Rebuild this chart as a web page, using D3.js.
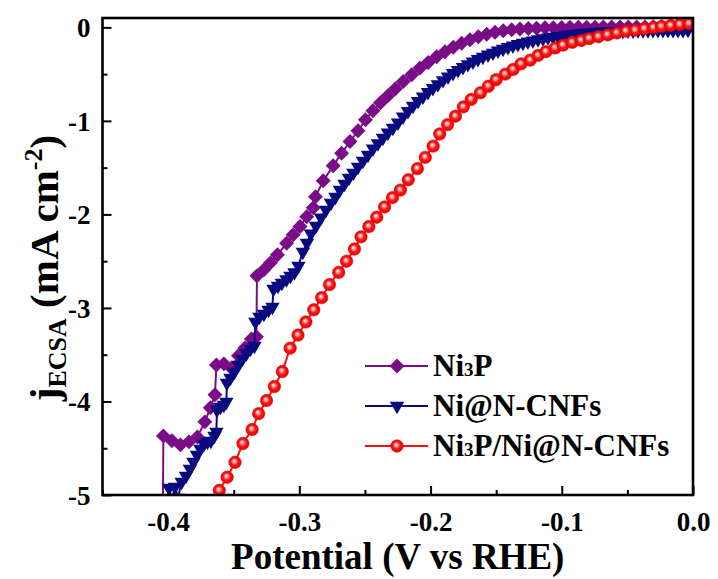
<!DOCTYPE html>
<html>
<head>
<meta charset="utf-8">
<script src="https://cdn.jsdelivr.net/npm/d3@7"></script>
<style>
  html, body { margin: 0; padding: 0; background: #fff; }
  svg { display: block; }
  svg text { font-family: "Liberation Serif", "Times New Roman", Tinos, "DejaVu Serif", serif; font-weight: bold; }
</style>
</head>
<body>
<svg id="chart" width="718" height="579"></svg>
<script>
// ---- Axis ticks ----
const xMajor = [-0.4, -0.3, -0.2, -0.1, 0.0];
const xTickLabels = ["-0.4", "-0.3", "-0.2", "-0.1", "0.0"];
const xMinor = [-0.45, -0.35, -0.25, -0.15, -0.05];
const yMajor = [0, -1, -2, -3, -4, -5];
const yTickLabels = ["0", "-1", "-2", "-3", "-4", "-5"];
const yMinor = [-0.5, -1.5, -2.5, -3.5, -4.5];

// ---- Series: potential (V vs RHE) and current density (mA cm^-2) ----
const ni3pV = [-0.4043,-0.4036,-0.3971,-0.3906,-0.3841,-0.3777,-0.3720,-0.3678,-0.3643,-0.3632,
  -0.3575,-0.3518,-0.3464,-0.3415,-0.3365,-0.3327,-0.3323,-0.3270,-0.3220,-0.3167,
  -0.3097,-0.3047,-0.2995,-0.2944,-0.2894,-0.2877,-0.2818,-0.2742,-0.2678,-0.2614,
  -0.2553,-0.2496,-0.2439,-0.2382,-0.2325,-0.2268,-0.2208,-0.2144,-0.2081,-0.2018,
  -0.1954,-0.1890,-0.1827,-0.1763,-0.1700,-0.1636,-0.1572,-0.1509,-0.1446,-0.1382,
  -0.1319,-0.1255,-0.1192,-0.1128,-0.1065,-0.1001,-0.0938,-0.0874,-0.0810,-0.0747,
  -0.0684,-0.0620,-0.0556,-0.0493,-0.0429,-0.0366,-0.0303,-0.0239,-0.0175,-0.0112,-0.0048];
const ni3pJ = [-5.69,-4.368,-4.421,-4.464,-4.432,-4.379,-4.218,-4.068,-3.929,-3.609,
  -3.598,-3.641,-3.512,-3.427,-3.331,-3.309,-2.657,-2.593,-2.518,-2.432,
  -2.309,-2.218,-2.129,-2.026,-1.929,-1.812,-1.641,-1.480,-1.345,-1.220,
  -1.106,-0.988,-0.892,-0.806,-0.732,-0.657,-0.578,-0.507,-0.435,-0.375,
  -0.315,-0.261,-0.213,-0.170,-0.133,-0.101,-0.074,-0.052,-0.036,-0.026,
  -0.018,-0.013,-0.009,-0.005,-0.003,-0.001,0.000,0.001,0.002,0.002,
  0.003,0.003,0.004,0.004,0.005,0.005,0.006,0.006,0.006,0.007,0.007];

const niCnfV = [-0.4017,-0.3994,-0.3971,-0.3948,-0.3925,-0.3897,-0.3864,-0.3834,-0.3807,-0.3780,
  -0.3754,-0.3727,-0.3700,-0.3674,-0.3647,-0.3632,-0.3628,-0.3601,-0.3575,-0.3556,
  -0.3552,-0.3525,-0.3495,-0.3464,-0.3434,-0.3403,-0.3373,-0.3342,-0.3335,-0.3304,
  -0.3270,-0.3235,-0.3205,-0.3197,-0.3163,-0.3133,-0.3098,-0.3068,-0.3037,-0.3007,
  -0.2973,-0.2942,-0.2912,-0.2873,-0.2835,-0.2797,-0.2759,-0.2725,-0.2691,-0.2656,
  -0.2622,-0.2588,-0.2553,-0.2515,-0.2477,-0.2439,-0.2401,-0.2363,-0.2325,-0.2287,
  -0.2248,-0.2210,-0.2172,-0.2134,-0.2096,-0.2058,-0.2020,-0.1982,-0.1944,-0.1905,
  -0.1867,-0.1829,-0.1791,-0.1753,-0.1715,-0.1677,-0.1639,-0.1601,-0.1562,-0.1524,
  -0.1486,-0.1448,-0.1410,-0.1372,-0.1334,-0.1296,-0.1258,-0.1220,-0.1181,-0.1143,
  -0.1105,-0.1067,-0.1029,-0.0991,-0.0953,-0.0915,-0.0877,-0.0838,-0.0800,-0.0762,
  -0.0724,-0.0686,-0.0648,-0.0610,-0.0572,-0.0534,-0.0495,-0.0457,-0.0419,-0.0381,
  -0.0343,-0.0305,-0.0267,-0.0229,-0.0191,-0.0152,-0.0114,-0.0076,-0.0038];
const niCnfJ = [-5.106,-4.924,-5.052,-4.913,-5.031,-4.860,-4.796,-4.721,-4.646,-4.571,
  -4.507,-4.454,-4.432,-4.421,-4.368,-4.325,-4.090,-4.058,-4.036,-4.004,
  -3.801,-3.748,-3.683,-3.609,-3.544,-3.486,-3.437,-3.405,-3.149,-3.095,
  -3.063,-3.020,-2.988,-2.796,-2.764,-2.732,-2.694,-2.657,-2.619,-2.550,
  -2.400,-2.304,-2.207,-2.122,-2.036,-1.951,-1.876,-1.812,-1.737,-1.673,
  -1.609,-1.555,-1.491,-1.427,-1.363,-1.298,-1.240,-1.181,-1.127,-1.074,
  -1.020,-0.956,-0.897,-0.839,-0.790,-0.742,-0.694,-0.651,-0.609,-0.566,
  -0.528,-0.491,-0.457,-0.425,-0.395,-0.368,-0.341,-0.317,-0.293,-0.272,
  -0.250,-0.231,-0.213,-0.197,-0.181,-0.167,-0.154,-0.141,-0.129,-0.119,
  -0.109,-0.101,-0.093,-0.086,-0.079,-0.073,-0.067,-0.062,-0.058,-0.053,
  -0.050,-0.047,-0.044,-0.042,-0.040,-0.037,-0.036,-0.035,-0.034,-0.033,
  -0.032,-0.031,-0.031,-0.030,-0.030,-0.029,-0.029,-0.029,-0.028];

const hybridV = [-0.361,-0.355,-0.349,-0.343,-0.336,-0.331,-0.325,-0.319,-0.313,-0.307,
  -0.301,-0.295,-0.289,-0.283,-0.277,-0.270,-0.264,-0.258,-0.253,-0.247,
  -0.241,-0.235,-0.229,-0.223,-0.217,-0.210,-0.204,-0.198,-0.193,-0.187,
  -0.181,-0.175,-0.169,-0.162,-0.156,-0.150,-0.143,-0.137,-0.131,-0.124,
  -0.118,-0.112,-0.105,-0.099,-0.092,-0.085,-0.079,-0.072,-0.065,-0.058,
  -0.051,-0.044,-0.037,-0.030,-0.024,-0.017,-0.010,-0.003];
const hybridJ = [-4.95,-4.81,-4.65,-4.45,-4.30,-4.13,-3.99,-3.84,-3.68,-3.43,
  -3.29,-3.15,-3.02,-2.89,-2.75,-2.62,-2.50,-2.37,-2.24,-2.13,
  -2.03,-1.92,-1.82,-1.74,-1.63,-1.51,-1.39,-1.27,-1.14,-1.04,
  -0.95,-0.85,-0.77,-0.70,-0.63,-0.56,-0.50,-0.45,-0.39,-0.35,
  -0.30,-0.26,-0.22,-0.19,-0.16,-0.14,-0.12,-0.10,-0.08,-0.06,
  -0.04,-0.03,-0.015,-0.002,0.01,0.02,0.03,0.04];

const seriesNames = ["Ni3P", "Ni@N-CNFs", "Ni3P/Ni@N-CNFs"];
const seriesColors = ["#7b0c88", "#0a0a80", "#ff0d0d"];
const SERIF = "'Liberation Serif', 'Times New Roman', Tinos, 'DejaVu Serif', serif";

// ---- Layout ----
const W = 718, H = 579;
const margin = { top: 18, right: 25, bottom: 84, left: 102.5 };
const svg = d3.select("#chart").attr("font-family", SERIF);

const x = d3.scaleLinear().domain([-0.45, 0]).range([margin.left, W - margin.right]);
const y = d3.scaleLinear().domain([-5, 0.1]).range([H - margin.bottom, margin.top]);

const defs = svg.append("defs");
defs.append("clipPath").attr("id", "plot-clip")
  .append("rect")
  .attr("x", margin.left).attr("y", margin.top)
  .attr("width", W - margin.left - margin.right)
  .attr("height", H - margin.top - margin.bottom);

const ball = defs.append("radialGradient").attr("id", "ball")
  .attr("cx", "50%").attr("cy", "50%").attr("r", "50%")
  .attr("fx", "42%").attr("fy", "38%");
ball.append("stop").attr("offset", "0%").attr("stop-color", "#ffffff");
ball.append("stop").attr("offset", "28%").attr("stop-color", "#ff9a9a");
ball.append("stop").attr("offset", "55%").attr("stop-color", "#ff1a1a");
ball.append("stop").attr("offset", "100%").attr("stop-color", "#e00000");

// ---- Axes ----
const xAxisY = y(-5);
function styleAxis(g) {
  g.attr("font-family", SERIF);
  g.select(".domain").remove();
  g.selectAll(".tick line").attr("stroke", "#000").attr("stroke-width", 2);
}

svg.append("g").attr("transform", `translate(0,${xAxisY})`)
  .call(d3.axisBottom(x).tickValues(xMinor).tickSize(-5).tickFormat(""))
  .call(styleAxis);
const gx = svg.append("g").attr("transform", `translate(0,${xAxisY})`)
  .call(d3.axisBottom(x).tickValues(xMajor).tickSize(-9)
    .tickFormat((d, i) => xTickLabels[i]))
  .call(styleAxis);
gx.selectAll(".tick text")
  .attr("y", 36).attr("dy", 0)
  .attr("font-size", 27).attr("font-family", SERIF)
  .attr("font-weight", "bold").attr("fill", "#000");

svg.append("g").attr("transform", `translate(${margin.left},0)`)
  .call(d3.axisLeft(y).tickValues(yMinor).tickSize(-5).tickFormat(""))
  .call(styleAxis);
const gy = svg.append("g").attr("transform", `translate(${margin.left},0)`)
  .call(d3.axisLeft(y).tickValues(yMajor).tickSize(-9)
    .tickFormat((d, i) => yTickLabels[i]))
  .call(styleAxis);
gy.selectAll(".tick text")
  .attr("x", -12).attr("dy", "0.34em")
  .attr("font-size", 27).attr("font-family", SERIF)
  .attr("font-weight", "bold").attr("fill", "#000");

// ---- Series ----
const plot = svg.append("g").attr("clip-path", "url(#plot-clip)");
const line = d3.line().x(d => x(d[0])).y(d => y(d[1]));

const diamond = d3.symbol().type(d3.symbolSquare).size(112)();
const triDown = d3.symbol().type(d3.symbolTriangle).size(90)();
const markerPaths = [diamond, triDown, null];
const markerRot = [45, 180, 0];

function drawMarker(g, k, cx, cy) {
  if (k === 2) {
    g.append("circle").attr("cx", cx).attr("cy", cy).attr("r", 6.2)
      .attr("fill", "url(#ball)").attr("stroke", "#e60000").attr("stroke-width", 0.6);
  } else {
    g.append("path").attr("d", markerPaths[k])
      .attr("transform", `translate(${cx},${cy}) rotate(${markerRot[k]})`)
      .attr("fill", seriesColors[k]);
  }
}

const allSeries = [d3.zip(ni3pV, ni3pJ), d3.zip(niCnfV, niCnfJ), d3.zip(hybridV, hybridJ)];
allSeries.forEach((data, k) => {
  const g = plot.append("g");
  g.append("path").datum(data).attr("d", line)
    .attr("fill", "none").attr("stroke", seriesColors[k]).attr("stroke-width", 2);
  data.forEach(d => drawMarker(g, k, x(d[0]), y(d[1])));
});

// ---- Frame ----
svg.append("rect")
  .attr("x", margin.left).attr("y", margin.top)
  .attr("width", W - margin.left - margin.right)
  .attr("height", H - margin.top - margin.bottom)
  .attr("fill", "none").attr("stroke", "#000").attr("stroke-width", 2.6);

// ---- Legend ----
const legend = svg.append("g");
const legendRows = [366, 406, 446];
seriesNames.forEach((name, k) => {
  const ly = legendRows[k];
  legend.append("line").attr("x1", 365).attr("x2", 428).attr("y1", ly).attr("y2", ly)
    .attr("stroke", seriesColors[k]).attr("stroke-width", 2);
  drawMarker(legend, k, 397, ly);
  const t = legend.append("text").attr("x", 433).attr("y", ly + 10)
    .attr("font-size", 31).attr("font-family", SERIF).attr("font-weight", "bold")
    .attr("fill", "#000");
  // Render the "3" in Ni3P at reduced size
  name.split(/(3)/).forEach(part => {
    if (!part) return;
    const s = t.append("tspan").text(part);
    if (part === "3") s.attr("font-size", 19);
  });
});

// ---- Axis titles ----
svg.append("text")
  .attr("x", (margin.left + W - margin.right) / 2).attr("y", 569)
  .attr("text-anchor", "middle").attr("font-size", 37).attr("fill", "#000")
  .attr("font-family", SERIF).attr("font-weight", "bold")
  .text("Potential (V vs RHE)");

const yt = svg.append("text")
  .attr("transform", `translate(58,268) rotate(-90)`)
  .attr("text-anchor", "middle").attr("font-size", 41).attr("fill", "#000")
  .attr("font-family", SERIF).attr("font-weight", "bold");
yt.append("tspan").text("j");
yt.append("tspan").attr("font-size", 26).attr("dy", 8).text("ECSA");
yt.append("tspan").attr("dy", -8).text(" (mA cm");
yt.append("tspan").attr("font-size", 26).attr("dy", -16).text("-2");
yt.append("tspan").attr("dy", 16).text(")");
</script>
</body>
</html>
